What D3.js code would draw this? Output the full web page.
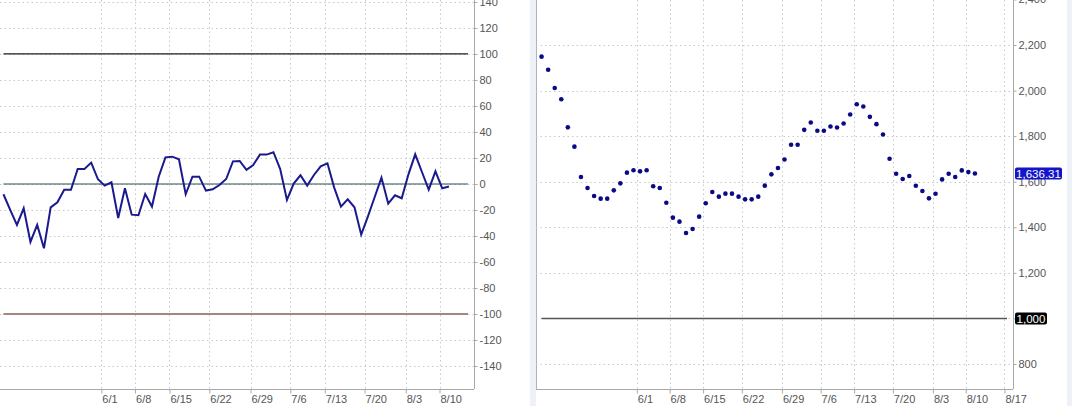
<!DOCTYPE html>
<html>
<head>
<meta charset="utf-8">
<script src="https://cdn.jsdelivr.net/npm/d3@7"></script>
<style>
  html, body { margin: 0; padding: 0; background: #fff; }
  svg { display: block; font-family: "Liberation Sans", Arial, sans-serif; }
  .axis text { fill: #555; font-size: 11px; }
  .axis path, .axis line { stroke: #a8a8a8; }
</style>
</head>
<body>
<svg id="chart" width="1072" height="406"></svg>
<script>
// ---- data ----
const oscValues = [-7.9,-20,-31.5,-18.7,-44.6,-31.5,-49.5,-18,-14.1,-4.4,
  -4.4,11.5,11.5,16.4,3.6,-1.3,1.3,-26.2,-3.3,-23.6,
  -24.1,-7.7,-17.4,5.6,20.5,21,19,-7.9,5.6,5.6,
  -5.1,-4.1,-0.8,3.8,17.4,17.7,10.8,14.6,22.6,22.6,
  24.4,11.5,-12.3,0.3,6.7,-1.3,6.9,13.6,15.9,-2.8,
  -17.4,-11.8,-17.9,-39,-24.9,-10,4.9,-15.1,-8.7,-11,
  7.4,22.8,9.2,-4.4,9.7,-3.3,-2];
const priceValues = [2148.8,2091.7,2011.3,1961.6,1838.7,1753.8,1620.7,1572.4,1537.3,1525.6,
  1525.6,1562.2,1592.9,1639.7,1650,1645.6,1650,1579.8,1572.4,1508,
  1442.3,1424.7,1375,1392.5,1446.7,1505.2,1554.9,1534.4,1547.6,1547.6,
  1534.4,1522.7,1522.7,1534.4,1582.7,1632.4,1659.9,1697.8,1762,1762,
  1827.7,1859.9,1823.4,1823.4,1842.3,1838,1855.5,1894.9,1940.1,1929.9,
  1884.7,1852.6,1807.3,1700.7,1635,1611.7,1624.8,1582.5,1559.1,1527,
  1547.4,1610.2,1635,1620.4,1649.6,1642.3,1636.31];
const dateLabels = ["6/1","6/8","6/15","6/22","6/29","7/6","7/13","7/20","8/3","8/10","8/17"];
const dateIndex  = [14.5,19.5,24.6,30.5,36.6,42.5,47.6,53.5,59.6,64.6,70.5];
const oscTicks = d3.range(-140, 141, 20);
const priceTicks = d3.range(800, 2401, 200);
const oscLevels = [100, 0, -100];
const priceLevel = 1000;
const lastPriceLabel = "1,636.31";

// ---- layout ----
const svg = d3.select("#chart");
const H = 389;
const L = { x0: 0, x1: 474, idx: [-0.51, 69.71], val: [-157.7, 141.5] };
const R = { x0: 536, x1: 1013, idx: [-0.85, 71.8], val: [690.3, 2397.5] };

// background strips
svg.append("rect").attr("x", 530).attr("y", 0).attr("width", 6).attr("height", 406).attr("fill", "#edf2f8");
svg.append("rect").attr("x", 1067).attr("y", 0).attr("width", 5).attr("height", 406).attr("fill", "#edf2f8");

const fmtOsc = d => String(d);
const fmtPrice = d3.format(",");

function panel(P, ticks, fmt) {
  const x = d3.scaleLinear().domain(P.idx).range([P.x0, P.x1]);
  const y = d3.scaleLinear().domain(P.val).range([H, 0]);
  const g = svg.append("g");
  const ticksX = dateIndex.map((d, i) => ({ d, l: dateLabels[i] })).filter(t => t.d >= P.idx[0] && t.d <= P.idx[1]);

  // grid
  g.append("g").selectAll("line").data(ticks).join("line")
    .attr("x1", P.x0).attr("x2", P.x1)
    .attr("y1", d => Math.round(y(d)) + 0.5).attr("y2", d => Math.round(y(d)) + 0.5)
    .attr("stroke", "#c9c9c9").attr("stroke-dasharray", "1.5,3");
  g.append("g").selectAll("line").data(ticksX).join("line")
    .attr("x1", t => Math.round(x(t.d)) + 0.5).attr("x2", t => Math.round(x(t.d)) + 0.5)
    .attr("y1", 0).attr("y2", H)
    .attr("stroke", "#c9c9c9").attr("stroke-dasharray", "1.5,3");

  // y axis on right
  const ya = g.append("g").attr("class", "axis")
    .attr("transform", `translate(${P.x1 + 0.5},0)`)
    .call(d3.axisRight(y).tickValues(ticks).tickFormat(fmt).tickSize(3).tickSizeOuter(0).tickPadding(2));
  ya.select(".domain").attr("d", `M0,0V${H}`);

  // x axis
  const xa = g.append("g").attr("class", "axis")
    .attr("transform", `translate(0,${H + 0.5})`)
    .call(d3.axisBottom(x).tickValues(ticksX.map(t => t.d))
      .tickFormat((d, i) => ticksX[i].l).tickSize(4).tickSizeOuter(0).tickPadding(2));
  xa.select(".domain").attr("d", `M${P.x0},0H${P.x1}`);
  xa.selectAll(".tick text").attr("text-anchor", "start").attr("dx", "0.5");
  return { x, y, g };
}

// ---- left panel: oscillator ----
const lp = panel(L, oscTicks, fmtOsc);
const levelStyle = { "100": ["#1e1e1e", 1.2], "0": ["#2c5252", 1.1], "-100": ["#a3877f", 2] };
lp.g.append("g").selectAll("line").data(oscLevels).join("line")
  .attr("x1", lp.x(0)).attr("x2", L.x1 - 6)
  .attr("y1", d => lp.y(d)).attr("y2", d => lp.y(d))
  .attr("stroke", d => levelStyle[d][0]).attr("stroke-width", d => levelStyle[d][1]);
lp.g.append("path").datum(oscValues)
  .attr("fill", "none").attr("stroke", "#1a1a8e").attr("stroke-width", 2)
  .attr("stroke-linejoin", "miter")
  .attr("d", d3.line().x((d, i) => lp.x(i)).y(d => lp.y(d)));

// ---- right panel: price dots ----
svg.append("line").attr("x1", R.x0 + 0.5).attr("x2", R.x0 + 0.5).attr("y1", 0).attr("y2", H)
  .attr("stroke", "#b4b4b4");
const rp = panel(R, priceTicks, fmtPrice);
rp.g.append("line")
  .attr("x1", rp.x(0)).attr("x2", R.x1 - 6)
  .attr("y1", rp.y(priceLevel)).attr("y2", rp.y(priceLevel))
  .attr("stroke", "#555").attr("stroke-width", 1.5);
rp.g.append("g").selectAll("circle").data(priceValues).join("circle")
  .attr("cx", (d, i) => rp.x(i)).attr("cy", d => rp.y(d)).attr("r", 2.3)
  .attr("fill", "#0a0a86");

// badges
function badge(val, text, fill, w) {
  const cy = rp.y(val);
  const bx = R.x1 + 2;
  rp.g.append("rect").attr("x", bx).attr("y", cy - 6).attr("width", w).attr("height", 12)
    .attr("rx", 2).attr("fill", fill);
  rp.g.append("text").attr("x", bx + w / 2).attr("y", cy).attr("dy", "0.36em")
    .attr("text-anchor", "middle").attr("fill", "#fff").attr("font-size", 11.5).text(text);
}
badge(priceValues[priceValues.length - 1], lastPriceLabel, "#1414c8", 47);
badge(priceLevel, fmtPrice(priceLevel), "#000", 32);
</script>
</body>
</html>
